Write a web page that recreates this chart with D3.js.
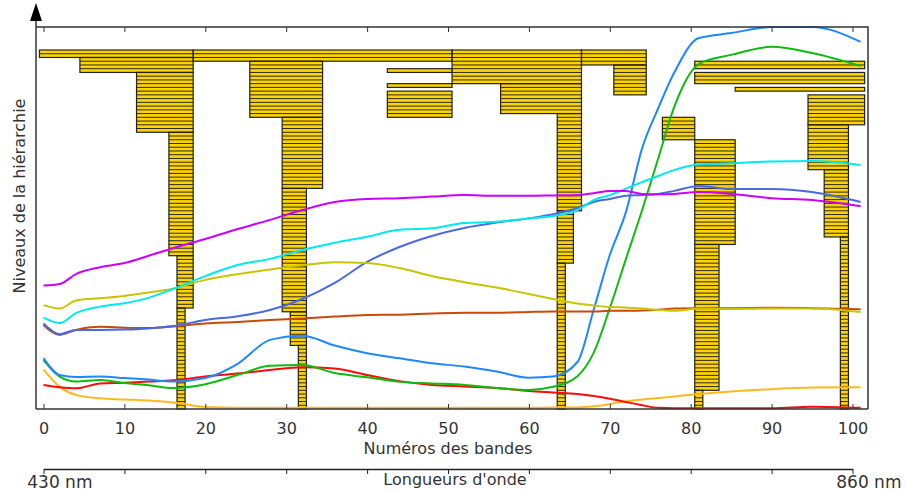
<!DOCTYPE html>
<html lang="fr">
<head>
<meta charset="UTF-8">
<title>Hiérarchie des bandes</title>
<script src="https://cdn.jsdelivr.net/npm/d3@7/dist/d3.min.js"></script>
<style>
  body{margin:0;background:#fff}
  text{font-family:"DejaVu Sans",sans-serif;fill:#333}
</style>
</head>
<body>
<div id="chart"></div>
<script>
    //spectra, sampled bands
    const bands=[0,2,4,7,10,13,16,20,24,28,32,36,40,44,48,52,56,60,63,66,68,70,72,74,76,78,81,85,90,95,101]
    const magenta=[32.3,32.7,35.3,37.1,38.2,40.1,42.1,44.5,47.1,49.5,52.1,54.2,55.0,55.2,55.6,56.0,55.8,55.8,55.9,56.0,56.5,57.1,57.1,56.3,56.2,56.3,56.8,56.3,55.2,54.7,53.1]
    const cyan=[23.9,22.5,25.1,26.8,27.7,29.1,31.4,34.8,37.7,39.3,41.6,43.5,45.1,46.9,47.3,48.7,49.0,49.9,50.5,52.1,54.7,56.0,57.7,59.4,61.0,62.6,64.0,64.3,64.8,64.9,63.9]
    const olive=[27.2,26.3,28.4,29.0,29.6,30.5,31.5,33.8,35.3,36.5,37.6,38.4,38.2,36.9,34.8,33.2,31.8,30.1,28.8,27.6,27.1,26.7,26.6,26.3,25.9,25.7,26.3,26.2,26.3,26.3,25.4]
    const royal=[22.4,19.6,20.7,20.7,20.8,21.1,21.7,23.3,24.3,25.9,28.8,33.0,38.5,42.4,45.3,47.4,48.8,49.9,51.0,52.6,54.2,55.0,55.8,56.0,56.3,57.1,58.4,57.6,57.6,56.8,54.2]
    const brown=[22.0,19.4,20.7,21.5,21.3,21.2,21.6,22.4,22.8,23.3,23.7,24.2,24.6,24.7,25.0,25.2,25.2,25.4,25.5,25.5,25.5,25.7,25.7,25.8,26.0,26.3,26.4,26.4,26.5,26.4,26.1]
    const sky=[13.3,8.9,8.4,8.5,8.1,7.7,7.2,8.1,11.8,18.1,19.2,16.6,14.6,13.3,12.0,11.1,9.8,8.2,8.5,12.3,25.9,40.3,51.6,68.3,78.8,88.2,97.1,98.4,100,100,96.1]
    const green=[12.8,8.5,7.2,7.6,6.8,6.2,5.5,6.5,8.9,11.3,11.5,9.4,8.3,7.1,6.7,6.3,5.5,5.0,5.8,8.6,14.7,26.4,39.3,52.1,65.7,79.3,90.3,92.7,94.8,93.2,89.8]
    const red=[6.3,5.7,5.4,6.7,6.9,7.2,7.5,8.5,9.3,10.2,10.9,10.6,8.9,7.3,6.3,5.9,5.5,4.7,4.3,3.9,3.4,2.7,1.8,1.0,0.3,0.2,0.2,0.2,0.2,0.6,0.3]
    const orange=[10.4,5.8,3.7,2.8,2.5,2.2,1.7,0.5,0.3,0.3,0.3,0.3,0.3,0.3,0.3,0.3,0.3,0.3,0.4,0.4,0.7,1.3,2.0,2.5,2.9,3.3,3.9,4.6,5.2,5.6,5.7]
    const series=[orange,red,green,sky,brown,royal,olive,cyan,magenta]
    const seriesColor=['#ffb820','#ff0a0a','#10bb10','#1e88ff','#c84a0a','#4a6ae0','#c8c400','#00eaee','#cc00ff']

    //hierarchy blocks: first band, last band, top level, bottom level
    const blockFirst=[0,5,12,16,17,17, 19,26,30,30,31,32, 43,43,43, 51,57,64,64,64, 67,71, 77,81,81,81, 81,81,86,95,95,97,99]
    const blockLast=[18,18,18,18,18,17, 50,34,34,32,32,32, 50,50,50, 66,66,66,65,64, 74,74, 80,85,83,81, 101,101,101,101,99,99,99]
    const blockTop=[0,2,6,22,55,69, 0,3,18,37,70,79, 5,9,11, 0,9,17,43,57, 0,4, 18,24,52,91, 3,6,10,12,20,32,50]
    const blockBottom=[2,6,22,55,69,96, 3,18,37,70,79,96, 6,10,18, 9,17,43,57,96, 4,12, 24,52,91,96, 5,9,11,20,32,50,96]
    const levels=96

    const bandTicks=[0,10,20,30,40,50,60,70,80,90,100]
    const wavelengths=['430','860']

    const svg=d3.select('#chart').append('svg').attr('width',906).attr('height',492)
    const x=d3.scaleLinear().domain([0,100]).range([43.5,852.5])
    const lv=d3.scaleLinear().domain([0,levels]).range([50,409])
    const y=d3.scaleLinear().domain([0,100]).range([409,27])

    //blocks
    const blocks=d3.range(blockFirst.length).map(i=>({a:blockFirst[i],b:blockLast[i],t:blockTop[i],u:blockBottom[i]}))
    const gb=svg.append('g')
    gb.selectAll('rect').data(blocks).join('rect')
        .attr('x',d=>x(d.a-0.5)).attr('width',d=>x(d.b+0.5)-x(d.a-0.5))
        .attr('y',d=>lv(d.t)).attr('height',d=>lv(d.u)-lv(d.t))
        .attr('fill','#ffd400')
    blocks.forEach(d=>{
        gb.append('g').selectAll('line').data(d3.range(d.t+1,d.u)).join('line')
            .attr('x1',x(d.a-0.5)).attr('x2',x(d.b+0.5))
            .attr('y1',l=>lv(l)).attr('y2',l=>lv(l))
            .attr('stroke','#2a2a2a').attr('stroke-width',1)
    })
    gb.append('g').selectAll('rect').data(blocks).join('rect')
        .attr('x',d=>x(d.a-0.5)).attr('width',d=>x(d.b+0.5)-x(d.a-0.5))
        .attr('y',d=>lv(d.t)).attr('height',d=>lv(d.u)-lv(d.t))
        .attr('fill','none').attr('stroke','#222').attr('stroke-width',1.2)

    //curves
    const line=d3.line().x((d,i)=>x(bands[i])).y(d=>y(d)).curve(d3.curveMonotoneX)
    svg.append('g').selectAll('path').data(series).join('path')
        .attr('d',line).attr('fill','none')
        .attr('stroke',(d,i)=>seriesColor[i]).attr('stroke-width',2)

    //frame and axes
    svg.append('path').attr('d','M36,27H868V409').attr('fill','none').attr('stroke','#333').attr('stroke-width',1.5)
    svg.append('line').attr('x1',36).attr('x2',868).attr('y1',409).attr('y2',409).attr('stroke','#333').attr('stroke-width',1.5)
    svg.append('line').attr('x1',36).attr('x2',36).attr('y1',409).attr('y2',18).attr('stroke','#333').attr('stroke-width',1.5)
    svg.append('path').attr('d','M30,21L36,3L42,21Z').attr('fill','#000')

    const bottomAxis=svg.append('g').attr('transform','translate(0,409)')
        .call(d3.axisBottom(x).tickValues(bandTicks).tickSizeInner(-5).tickSizeOuter(0).tickPadding(14))
    bottomAxis.select('.domain').remove()
    bottomAxis.selectAll('.tick line').attr('stroke','#333')
    bottomAxis.selectAll('text').attr('font-size',16).attr('font-family','DejaVu Sans').attr('fill','#333')

    const topAxis=svg.append('g').attr('transform','translate(0,27)')
        .call(d3.axisTop(x).tickValues(bandTicks).tickSizeInner(-5).tickSizeOuter(0).tickFormat(''))
    topAxis.select('.domain').remove()
    topAxis.selectAll('.tick line').attr('stroke','#333')

    svg.append('text').attr('x',(x(0)+x(100))/2).attr('y',454).attr('text-anchor','middle')
        .attr('font-size',16).text('Numéros des bandes')

    //wavelength axis
    const wl=svg.append('g').attr('transform','translate(0,469)')
        .call(d3.axisBottom(x).tickValues(bandTicks).tickSizeInner(5).tickSizeOuter(0).tickFormat(''))
    wl.select('.domain').attr('stroke','#222').attr('stroke-width',1.3)
    wl.selectAll('.tick line').attr('stroke','#222')
    ;[0,100].forEach((b,i)=>{
        const t=svg.append('text').attr('x',x(b)).attr('y',488).attr('font-size',17)
        const n=t.append('tspan').text(wavelengths[i])
        t.append('tspan').text(' nm')
        t.attr('x',x(b)-n.node().getComputedTextLength()/2)
    })
    svg.append('text').attr('x',455).attr('y',485).attr('text-anchor','middle')
        .attr('font-size',16).text("Longueurs d'onde")

    svg.append('text').attr('transform','translate(25,196) rotate(-90)').attr('text-anchor','middle')
        .attr('font-size',16).text('Niveaux de la hiérarchie')
</script>
</body>
</html>
